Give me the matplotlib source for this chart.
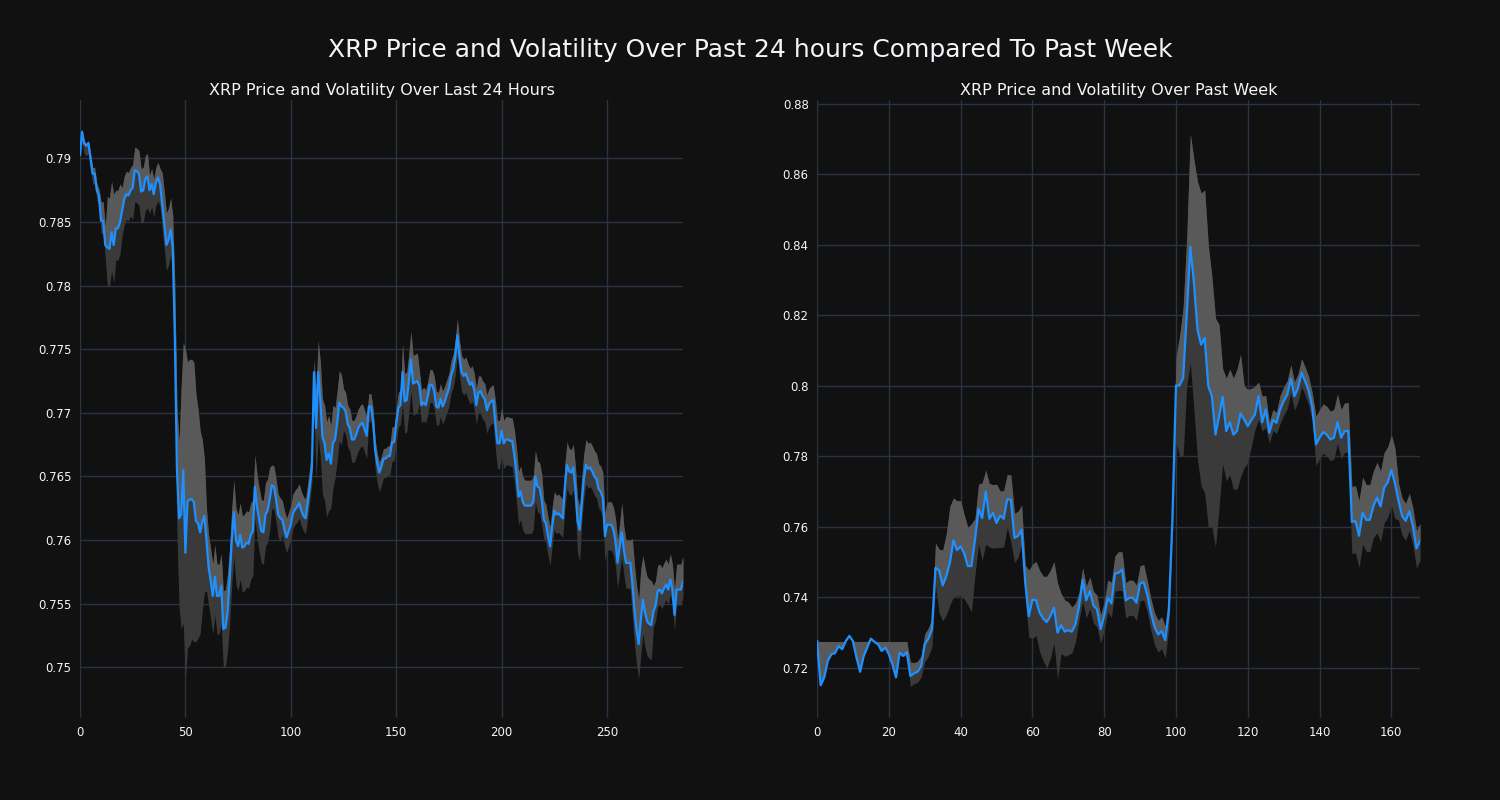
import matplotlib
matplotlib.use("Agg")
import matplotlib.pyplot as plt
from matplotlib.ticker import FuncFormatter
import numpy as np

# DATA - last 24 hours (5 minute steps)
day_price = [
    0.7903, 0.7921, 0.7912, 0.7910, 0.7912, 0.7900, 0.7888, 0.7888, 0.7875, 0.7871,
    0.7851, 0.7851, 0.7832, 0.7830, 0.7829, 0.7842, 0.7832, 0.7845, 0.7845, 0.7850,
    0.7859, 0.7868, 0.7872, 0.7871, 0.7875, 0.7877, 0.7891, 0.7890, 0.7888, 0.7874,
    0.7875, 0.7884, 0.7886, 0.7875, 0.7880, 0.7872, 0.7881, 0.7885, 0.7880, 0.7864,
    0.7849, 0.7832, 0.7836, 0.7844, 0.7830, 0.7760, 0.7655, 0.7617, 0.7620, 0.7655,
    0.7590, 0.7630, 0.7632, 0.7632, 0.7630, 0.7615, 0.7613, 0.7606, 0.7614, 0.7619,
    0.7600, 0.7579, 0.7568, 0.7556, 0.7571, 0.7556, 0.7556, 0.7564, 0.7530, 0.7531,
    0.7543, 0.7569, 0.7600, 0.7622, 0.7600, 0.7595, 0.7604, 0.7594, 0.7595, 0.7598,
    0.7597, 0.7604, 0.7607, 0.7642, 0.7626, 0.7616, 0.7607, 0.7606, 0.7620, 0.7623,
    0.7632, 0.7643, 0.7642, 0.7632, 0.7620, 0.7617, 0.7616, 0.7608, 0.7602, 0.7607,
    0.7612, 0.7621, 0.7624, 0.7626, 0.7629, 0.7623, 0.7619, 0.7617, 0.7629, 0.7642,
    0.7657, 0.7732, 0.7688, 0.7732, 0.7710, 0.7681, 0.7676, 0.7663, 0.7668, 0.7660,
    0.7676, 0.7679, 0.7692, 0.7708, 0.7705, 0.7704, 0.7701, 0.7691, 0.7688, 0.7679,
    0.7679, 0.7683, 0.7688, 0.7691, 0.7692, 0.7687, 0.7682, 0.7705, 0.7705, 0.7694,
    0.7671, 0.7660, 0.7653, 0.7658, 0.7664, 0.7664, 0.7666, 0.7666, 0.7677, 0.7677,
    0.7691, 0.7704, 0.7706, 0.7732, 0.7709, 0.7710, 0.7725, 0.7742, 0.7723, 0.7724,
    0.7725, 0.7721, 0.7706, 0.7708, 0.7706, 0.7713, 0.7722, 0.7722, 0.7717, 0.7705,
    0.7704, 0.7711, 0.7705, 0.7709, 0.7714, 0.7719, 0.7729, 0.7734, 0.7744, 0.7761,
    0.7744, 0.7732, 0.7729, 0.7731, 0.7726, 0.7722, 0.7724, 0.7718, 0.7706, 0.7716,
    0.7717, 0.7713, 0.7711, 0.7702, 0.7707, 0.7709, 0.7710, 0.7692, 0.7676, 0.7676,
    0.7686, 0.7676, 0.7679, 0.7679, 0.7678, 0.7678, 0.7667, 0.7653, 0.7634, 0.7638,
    0.7630, 0.7627, 0.7627, 0.7627, 0.7627, 0.7630, 0.7650, 0.7642, 0.7641, 0.7632,
    0.7616, 0.7613, 0.7603, 0.7595, 0.7611, 0.7623, 0.7620, 0.7621, 0.7619, 0.7617,
    0.7642, 0.7659, 0.7654, 0.7653, 0.7657, 0.7640, 0.7615, 0.7608, 0.7629, 0.7648,
    0.7659, 0.7656, 0.7657, 0.7654, 0.7650, 0.7648, 0.7640, 0.7638, 0.7633, 0.7603,
    0.7612, 0.7612, 0.7612, 0.7608, 0.7599, 0.7582, 0.7595, 0.7606, 0.7592, 0.7582,
    0.7582, 0.7582, 0.7566, 0.7545, 0.7529, 0.7518, 0.7537, 0.7553, 0.7543, 0.7536,
    0.7534, 0.7533, 0.7544, 0.7548, 0.7560, 0.7561, 0.7558, 0.7562, 0.7565, 0.7561,
    0.7569, 0.7561, 0.7541, 0.7561, 0.7561, 0.7561, 0.7567,
]
day_vol_up = [
    0.0002, 0.0002, 0.0002, 0.0002, 0.0002, 0.0005, 0.0005, 0.0005, 0.0005, 0.0005,
    0.0015, 0.0015, 0.0015, 0.0040, 0.0040, 0.0040, 0.0040, 0.0030, 0.0030, 0.0030,
    0.0018, 0.0018, 0.0018, 0.0018, 0.0018, 0.0018, 0.0018, 0.0018, 0.0018, 0.0018,
    0.0018, 0.0018, 0.0018, 0.0012, 0.0012, 0.0012, 0.0012, 0.0012, 0.0012, 0.0025,
    0.0025, 0.0025, 0.0025, 0.0025, 0.0025, 0.0040, 0.0050, 0.0060, 0.0100, 0.0100,
    0.0160, 0.0110, 0.0110, 0.0110, 0.0110, 0.0100, 0.0090, 0.0080, 0.0065, 0.0045,
    0.0025, 0.0025, 0.0025, 0.0025, 0.0025, 0.0025, 0.0025, 0.0025, 0.0030, 0.0030,
    0.0030, 0.0025, 0.0025, 0.0025, 0.0025, 0.0025, 0.0025, 0.0025, 0.0025, 0.0025,
    0.0025, 0.0025, 0.0025, 0.0025, 0.0025, 0.0025, 0.0025, 0.0025, 0.0025, 0.0025,
    0.0025, 0.0016, 0.0016, 0.0016, 0.0016, 0.0016, 0.0015, 0.0015, 0.0015, 0.0015,
    0.0015, 0.0015, 0.0015, 0.0015, 0.0015, 0.0015, 0.0015, 0.0015, 0.0015, 0.0015,
    0.0015, 0.0010, 0.0030, 0.0025, 0.0030, 0.0030, 0.0030, 0.0030, 0.0030, 0.0030,
    0.0030, 0.0025, 0.0025, 0.0025, 0.0025, 0.0015, 0.0015, 0.0015, 0.0015, 0.0015,
    0.0015, 0.0015, 0.0015, 0.0015, 0.0015, 0.0015, 0.0015, 0.0010, 0.0010, 0.0010,
    0.0008, 0.0008, 0.0008, 0.0008, 0.0008, 0.0008, 0.0008, 0.0008, 0.0012, 0.0012,
    0.0012, 0.0012, 0.0012, 0.0022, 0.0022, 0.0022, 0.0022, 0.0022, 0.0022, 0.0022,
    0.0022, 0.0012, 0.0012, 0.0012, 0.0012, 0.0012, 0.0012, 0.0012, 0.0012, 0.0012,
    0.0012, 0.0012, 0.0012, 0.0012, 0.0012, 0.0012, 0.0012, 0.0012, 0.0013, 0.0013,
    0.0013, 0.0013, 0.0013, 0.0013, 0.0013, 0.0013, 0.0013, 0.0013, 0.0013, 0.0013,
    0.0012, 0.0012, 0.0012, 0.0012, 0.0012, 0.0012, 0.0012, 0.0018, 0.0018, 0.0018,
    0.0018, 0.0018, 0.0018, 0.0018, 0.0018, 0.0018, 0.0020, 0.0020, 0.0020, 0.0020,
    0.0020, 0.0020, 0.0020, 0.0020, 0.0020, 0.0020, 0.0020, 0.0020, 0.0020, 0.0020,
    0.0015, 0.0015, 0.0015, 0.0015, 0.0015, 0.0015, 0.0015, 0.0015, 0.0015, 0.0015,
    0.0018, 0.0018, 0.0018, 0.0018, 0.0018, 0.0018, 0.0018, 0.0018, 0.0020, 0.0020,
    0.0020, 0.0020, 0.0020, 0.0020, 0.0020, 0.0020, 0.0020, 0.0020, 0.0020, 0.0018,
    0.0018, 0.0018, 0.0018, 0.0018, 0.0018, 0.0018, 0.0018, 0.0023, 0.0018, 0.0018,
    0.0018, 0.0018, 0.0035, 0.0035, 0.0035, 0.0035, 0.0040, 0.0035, 0.0035, 0.0035,
    0.0035, 0.0035, 0.0020, 0.0020, 0.0020, 0.0020, 0.0020, 0.0020, 0.0020, 0.0020,
    0.0020, 0.0020, 0.0020, 0.0020, 0.0020, 0.0020, 0.0020,
]
day_vol_dn = [
    0.0008, 0.0008, 0.0008, 0.0008, 0.0008, 0.0008, 0.0008, 0.0008, 0.0008, 0.0008,
    0.0010, 0.0010, 0.0010, 0.0030, 0.0030, 0.0030, 0.0030, 0.0025, 0.0025, 0.0025,
    0.0020, 0.0020, 0.0020, 0.0020, 0.0020, 0.0025, 0.0025, 0.0025, 0.0025, 0.0025,
    0.0025, 0.0025, 0.0025, 0.0018, 0.0018, 0.0018, 0.0018, 0.0018, 0.0018, 0.0020,
    0.0020, 0.0020, 0.0020, 0.0020, 0.0020, 0.0030, 0.0050, 0.0070, 0.0090, 0.0120,
    0.0100, 0.0115, 0.0115, 0.0110, 0.0110, 0.0095, 0.0090, 0.0080, 0.0070, 0.0060,
    0.0040, 0.0030, 0.0030, 0.0030, 0.0030, 0.0030, 0.0030, 0.0030, 0.0030, 0.0030,
    0.0030, 0.0035, 0.0035, 0.0035, 0.0035, 0.0035, 0.0035, 0.0035, 0.0035, 0.0035,
    0.0035, 0.0035, 0.0035, 0.0025, 0.0025, 0.0025, 0.0025, 0.0025, 0.0025, 0.0025,
    0.0025, 0.0018, 0.0018, 0.0018, 0.0018, 0.0018, 0.0012, 0.0012, 0.0012, 0.0012,
    0.0012, 0.0012, 0.0012, 0.0012, 0.0012, 0.0012, 0.0012, 0.0012, 0.0012, 0.0012,
    0.0012, 0.0030, 0.0040, 0.0050, 0.0045, 0.0045, 0.0045, 0.0045, 0.0045, 0.0035,
    0.0035, 0.0030, 0.0030, 0.0030, 0.0030, 0.0018, 0.0018, 0.0018, 0.0018, 0.0018,
    0.0018, 0.0018, 0.0018, 0.0018, 0.0018, 0.0018, 0.0018, 0.0012, 0.0012, 0.0012,
    0.0015, 0.0015, 0.0015, 0.0015, 0.0015, 0.0015, 0.0015, 0.0015, 0.0015, 0.0015,
    0.0015, 0.0015, 0.0015, 0.0025, 0.0025, 0.0025, 0.0025, 0.0025, 0.0025, 0.0025,
    0.0025, 0.0014, 0.0014, 0.0014, 0.0014, 0.0014, 0.0014, 0.0014, 0.0014, 0.0014,
    0.0014, 0.0014, 0.0014, 0.0014, 0.0014, 0.0014, 0.0014, 0.0014, 0.0015, 0.0015,
    0.0015, 0.0015, 0.0015, 0.0015, 0.0015, 0.0015, 0.0015, 0.0015, 0.0015, 0.0015,
    0.0018, 0.0018, 0.0018, 0.0018, 0.0018, 0.0018, 0.0018, 0.0020, 0.0020, 0.0020,
    0.0020, 0.0020, 0.0020, 0.0020, 0.0020, 0.0020, 0.0022, 0.0022, 0.0022, 0.0022,
    0.0022, 0.0022, 0.0022, 0.0022, 0.0022, 0.0022, 0.0020, 0.0020, 0.0020, 0.0020,
    0.0015, 0.0015, 0.0015, 0.0015, 0.0015, 0.0015, 0.0015, 0.0015, 0.0015, 0.0015,
    0.0018, 0.0018, 0.0018, 0.0018, 0.0018, 0.0018, 0.0025, 0.0025, 0.0015, 0.0015,
    0.0015, 0.0015, 0.0015, 0.0015, 0.0015, 0.0015, 0.0015, 0.0015, 0.0015, 0.0020,
    0.0020, 0.0020, 0.0020, 0.0020, 0.0020, 0.0020, 0.0020, 0.0020, 0.0020, 0.0020,
    0.0020, 0.0020, 0.0027, 0.0027, 0.0027, 0.0027, 0.0027, 0.0027, 0.0027, 0.0027,
    0.0027, 0.0027, 0.0012, 0.0012, 0.0012, 0.0012, 0.0012, 0.0012, 0.0012, 0.0012,
    0.0012, 0.0012, 0.0012, 0.0012, 0.0012, 0.0012, 0.0012,
]

# DATA - past week (hourly)
week_price = [
    0.7276, 0.7151, 0.7173, 0.7220, 0.7239, 0.7242, 0.7262, 0.7253, 0.7276, 0.7291,
    0.7276, 0.7229, 0.7189, 0.7234, 0.7258, 0.7283, 0.7274, 0.7267, 0.7248, 0.7258,
    0.7239, 0.7210, 0.7173, 0.7243, 0.7234, 0.7245, 0.7177, 0.7185, 0.7189, 0.7204,
    0.7267, 0.7283, 0.7309, 0.7484, 0.7477, 0.7434, 0.7460, 0.7498, 0.7562, 0.7534,
    0.7545, 0.7525, 0.7489, 0.7489, 0.7564, 0.7651, 0.7625, 0.7701, 0.7623, 0.7640,
    0.7611, 0.7632, 0.7623, 0.7679, 0.7677, 0.7569, 0.7574, 0.7592, 0.7442, 0.7347,
    0.7394, 0.7392, 0.7357, 0.7340, 0.7330, 0.7347, 0.7371, 0.7300, 0.7321, 0.7303,
    0.7307, 0.7303, 0.7324, 0.7375, 0.7449, 0.7392, 0.7418, 0.7377, 0.7366, 0.7310,
    0.7347, 0.7399, 0.7383, 0.7468, 0.7470, 0.7479, 0.7392, 0.7399, 0.7399, 0.7385,
    0.7440, 0.7443, 0.7408, 0.7357, 0.7317, 0.7295, 0.7305, 0.7279, 0.7361, 0.7621,
    0.8001, 0.8001, 0.8023, 0.8202, 0.8395, 0.8292, 0.8159, 0.8117, 0.8136, 0.7999,
    0.7971, 0.7862, 0.7914, 0.7969, 0.7872, 0.7897, 0.7862, 0.7872, 0.7922, 0.7905,
    0.7886, 0.7903, 0.7919, 0.7971, 0.7897, 0.7933, 0.7867, 0.7903, 0.7895, 0.7933,
    0.7957, 0.7975, 0.8020, 0.7971, 0.7994, 0.8037, 0.8013, 0.7985, 0.7938, 0.7834,
    0.7853, 0.7869, 0.7862, 0.7848, 0.7853, 0.7897, 0.7853, 0.7872, 0.7872, 0.7614,
    0.7617, 0.7575, 0.7641, 0.7620, 0.7620, 0.7659, 0.7683, 0.7658, 0.7711, 0.7727,
    0.7761, 0.7724, 0.7674, 0.7631, 0.7617, 0.7645, 0.7603, 0.7539, 0.7560,
]
week_vol_up = [
    0.0000, 0.0124, 0.0102, 0.0055, 0.0036, 0.0033, 0.0013, 0.0022, 0.0000, 0.0000,
    0.0000, 0.0046, 0.0086, 0.0041, 0.0017, 0.0000, 0.0001, 0.0008, 0.0027, 0.0017,
    0.0036, 0.0065, 0.0102, 0.0032, 0.0041, 0.0030, 0.0040, 0.0030, 0.0030, 0.0030,
    0.0030, 0.0030, 0.0030, 0.0070, 0.0060, 0.0100, 0.0120, 0.0160, 0.0120, 0.0140,
    0.0130, 0.0110, 0.0110, 0.0120, 0.0060, 0.0070, 0.0100, 0.0060, 0.0100, 0.0080,
    0.0110, 0.0070, 0.0080, 0.0070, 0.0070, 0.0070, 0.0070, 0.0070, 0.0050, 0.0130,
    0.0100, 0.0110, 0.0120, 0.0120, 0.0130, 0.0130, 0.0130, 0.0140, 0.0090, 0.0090,
    0.0080, 0.0070, 0.0060, 0.0040, 0.0035, 0.0040, 0.0040, 0.0040, 0.0040, 0.0040,
    0.0040, 0.0050, 0.0060, 0.0050, 0.0060, 0.0050, 0.0050, 0.0050, 0.0050, 0.0050,
    0.0050, 0.0050, 0.0040, 0.0040, 0.0040, 0.0040, 0.0040, 0.0040, 0.0040, 0.0060,
    0.0080, 0.0140, 0.0200, 0.0220, 0.0320, 0.0350, 0.0420, 0.0430, 0.0420, 0.0400,
    0.0340, 0.0330, 0.0260, 0.0080, 0.0150, 0.0150, 0.0160, 0.0175, 0.0167, 0.0095,
    0.0104, 0.0090, 0.0080, 0.0040, 0.0074, 0.0040, 0.0030, 0.0030, 0.0030, 0.0040,
    0.0040, 0.0040, 0.0040, 0.0040, 0.0040, 0.0040, 0.0040, 0.0040, 0.0040, 0.0080,
    0.0080, 0.0080, 0.0080, 0.0080, 0.0080, 0.0080, 0.0080, 0.0080, 0.0080, 0.0100,
    0.0100, 0.0100, 0.0100, 0.0100, 0.0100, 0.0100, 0.0100, 0.0100, 0.0100, 0.0100,
    0.0100, 0.0100, 0.0050, 0.0050, 0.0050, 0.0050, 0.0050, 0.0050, 0.0050,
]
week_vol_dn = [
    0.0000, 0.0000, 0.0000, 0.0000, 0.0000, 0.0000, 0.0000, 0.0000, 0.0000, 0.0000,
    0.0000, 0.0000, 0.0000, 0.0000, 0.0000, 0.0000, 0.0000, 0.0000, 0.0000, 0.0000,
    0.0000, 0.0000, 0.0000, 0.0000, 0.0000, 0.0010, 0.0030, 0.0030, 0.0030, 0.0030,
    0.0050, 0.0050, 0.0050, 0.0050, 0.0120, 0.0100, 0.0110, 0.0120, 0.0160, 0.0130,
    0.0140, 0.0130, 0.0110, 0.0130, 0.0100, 0.0100, 0.0120, 0.0150, 0.0080, 0.0100,
    0.0070, 0.0090, 0.0080, 0.0080, 0.0120, 0.0070, 0.0060, 0.0040, 0.0050, 0.0060,
    0.0110, 0.0100, 0.0110, 0.0120, 0.0130, 0.0120, 0.0100, 0.0130, 0.0080, 0.0070,
    0.0070, 0.0060, 0.0050, 0.0040, 0.0060, 0.0050, 0.0050, 0.0050, 0.0050, 0.0040,
    0.0040, 0.0040, 0.0040, 0.0050, 0.0050, 0.0060, 0.0050, 0.0050, 0.0050, 0.0050,
    0.0050, 0.0050, 0.0050, 0.0050, 0.0050, 0.0050, 0.0050, 0.0050, 0.0050, 0.0060,
    0.0160, 0.0200, 0.0220, 0.0200, 0.0330, 0.0360, 0.0370, 0.0400, 0.0440, 0.0400,
    0.0370, 0.0320, 0.0260, 0.0190, 0.0140, 0.0150, 0.0155, 0.0165, 0.0180, 0.0137,
    0.0104, 0.0074, 0.0043, 0.0066, 0.0025, 0.0050, 0.0030, 0.0030, 0.0030, 0.0040,
    0.0040, 0.0040, 0.0040, 0.0040, 0.0040, 0.0040, 0.0040, 0.0040, 0.0040, 0.0060,
    0.0060, 0.0060, 0.0060, 0.0060, 0.0060, 0.0060, 0.0060, 0.0060, 0.0060, 0.0090,
    0.0090, 0.0090, 0.0090, 0.0090, 0.0090, 0.0090, 0.0100, 0.0100, 0.0100, 0.0100,
    0.0100, 0.0100, 0.0055, 0.0055, 0.0055, 0.0055, 0.0055, 0.0055, 0.0055,
]

day_yticks = [0.75, 0.755, 0.76, 0.765, 0.77, 0.775, 0.78, 0.785, 0.79]
day_xticks = [0, 50, 100, 150, 200, 250]
week_yticks = [0.72, 0.74, 0.76, 0.78, 0.80, 0.82, 0.84, 0.86, 0.88]
week_xticks = [0, 20, 40, 60, 80, 100, 120, 140, 160]

BG = "#111111"
GRID = "#283442"
TXT = "#f2f5fa"


def draw(ax, price, up, dn, title, xticks, yticks, ylim):
    price = np.array(price)
    x = np.arange(len(price))
    upper = price + np.array(up)
    lower = price - np.array(dn)
    ax.set_facecolor(BG)
    ax.fill_between(x, lower, upper, color="#3a3a3a", linewidth=0)
    ax.fill_between(x, price, upper, color="#595959", linewidth=0)
    ax.plot(x, price, color="#1e90ff", linewidth=1.6)
    ax.set_xlim(0, len(price) - 1)
    ax.set_ylim(*ylim)
    ax.set_xticks(xticks)
    ax.set_yticks(yticks)
    ax.yaxis.set_major_formatter(FuncFormatter(lambda v, p: "%g" % round(v, 4)))
    ax.grid(True, color=GRID, linewidth=1)
    ax.set_axisbelow(True)
    for s in ax.spines.values():
        s.set_visible(False)
    ax.tick_params(length=0, colors=TXT, labelsize=8.5, pad=6)
    ax.set_title(title, color=TXT, fontsize=11.5, pad=3.5)


fig = plt.figure(figsize=(15, 8), dpi=100, facecolor=BG)
ax1 = fig.add_axes([0.0533, 0.1025, 0.402, 0.7725])
ax2 = fig.add_axes([0.5447, 0.1025, 0.402, 0.7725])

draw(ax1, day_price, day_vol_up, day_vol_dn, "XRP Price and Volatility Over Last 24 Hours",
     day_xticks, day_yticks, (0.7460, 0.7946))
draw(ax2, week_price, week_vol_up, week_vol_dn, "XRP Price and Volatility Over Past Week",
     week_xticks, week_yticks, (0.7058, 0.8811))

fig.text(0.5, 0.9375, "XRP Price and Volatility Over Past 24 hours Compared To Past Week",
         color=TXT, fontsize=18, ha="center", va="center")

fig.savefig("out.png", facecolor=BG)
